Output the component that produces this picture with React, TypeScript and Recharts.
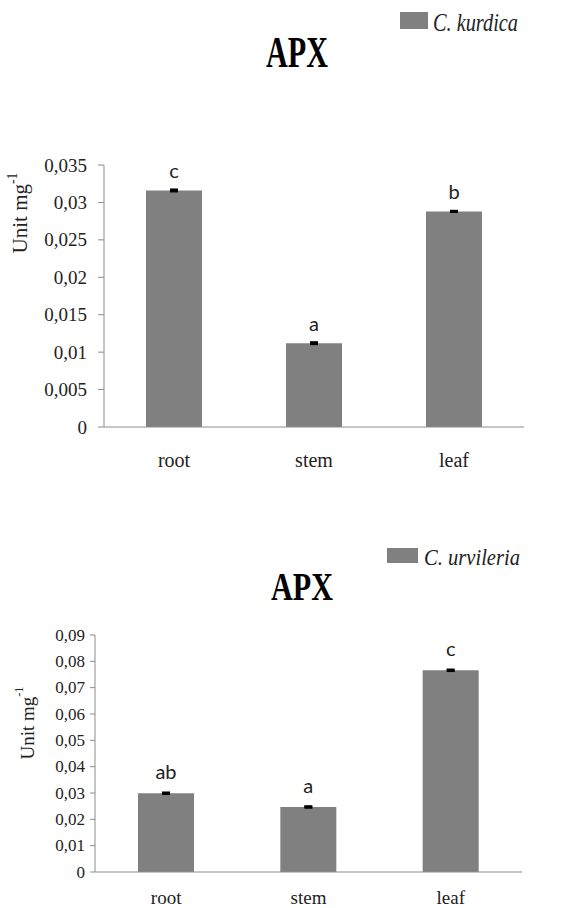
import { BarChart, Bar, XAxis, YAxis, ErrorBar, LabelList } from "recharts"

const organs = ["root", "stem", "leaf"]

const kurdicaApx = [0.0316, 0.0112, 0.0288]
const kurdicaErr = [0.0001, 0.0001, 0.00005]
const kurdicaLetters = ["c", "a", "b"]
const kurdicaTicks = [0, 0.005, 0.01, 0.015, 0.02, 0.025, 0.03, 0.035]

const urvileriaApx = [0.0299, 0.0247, 0.0766]
const urvileriaErr = [0.0002, 0.0002, 0.0002]
const urvileriaLetters = ["ab", "a", "c"]
const urvileriaTicks = [0, 0.01, 0.02, 0.03, 0.04, 0.05, 0.06, 0.07, 0.08, 0.09]

const kurdicaData = organs.map((organ, i) => ({
  organ,
  apx: kurdicaApx[i],
  err: kurdicaErr[i],
  letter: kurdicaLetters[i],
}))

const urvileriaData = organs.map((organ, i) => ({
  organ,
  apx: urvileriaApx[i],
  err: urvileriaErr[i],
  letter: urvileriaLetters[i],
}))

const BAR = "#808080"
const AXIS = "#8c8c8c"
const SERIF = "'Liberation Serif', 'Times New Roman', serif"
const SANS = "Lato, 'Liberation Sans', sans-serif"

// comma decimal like the original (0,035)
const commaFmt = (v: number) => (v === 0 ? "0" : String(parseFloat(v.toFixed(3))).replace(".", ","))

function yTick(size: number) {
  return (props: any) => {
    const { x, y, payload } = props
    return (
      <text x={x} y={y} textAnchor="end" dominantBaseline="central" fill="#222" style={{ fontFamily: SERIF, fontSize: size }}>
        {commaFmt(payload.value)}
      </text>
    )
  }
}

function xTick(size: number) {
  return (props: any) => {
    const { x, y, payload } = props
    return (
      <text x={x} y={y} textAnchor="middle" dominantBaseline="central" fill="#222" style={{ fontFamily: SERIF, fontSize: size }}>
        {payload.value}
      </text>
    )
  }
}

function letterLabel(gap: number) {
  return (props: any) => {
    const vb = props.viewBox || props
    const x = Number(vb.x) + Number(vb.width) / 2
    const y = Number(vb.y) - gap
    return (
      <text x={x} y={y} textAnchor="middle" fill="#222" style={{ fontFamily: SANS, fontSize: 20 }}>
        {props.value}
      </text>
    )
  }
}

function yLabel(dx: number, dy: number, size: number) {
  return (props: any) => {
    const vb = props.viewBox || { x: 0, y: 0 }
    const x = Number(vb.x) + dx
    const y = Number(vb.y) + dy
    return (
      <text
        x={x}
        y={y}
        transform={`rotate(-90 ${x} ${y})`}
        textAnchor="middle"
        dominantBaseline="central"
        fill="#222"
        style={{ fontFamily: SERIF, fontSize: size }}
      >
        Unit mg
        <tspan dy={-size * 0.4} style={{ fontSize: size * 0.65 }}>
          -1
        </tspan>
      </text>
    )
  }
}

export default function App() {
  return (
    <div style={{ position: "absolute", left: 0, top: 0, width: 576, height: 908, background: "#fff" }}>
      <div style={{ position: "absolute", left: 0, top: 0 }}>
        <BarChart width={576} height={480} data={kurdicaData} margin={{ top: 165, right: 52, left: 0, bottom: 0 }}>
          <XAxis
            dataKey="organ"
            height={53}
            tickSize={0}
            tickMargin={33}
            axisLine={{ stroke: AXIS }}
            tick={xTick(20)}
          />
          <YAxis
            width={104}
            domain={[0, 0.035]}
            ticks={kurdicaTicks}
            interval={0}
            tickSize={6}
            tickMargin={11}
            axisLine={{ stroke: AXIS }}
            tickLine={{ stroke: AXIS }}
            tick={yTick(19)}
            label={{ content: yLabel(20, 48, 21) }}
          />
          <Bar dataKey="apx" fill={BAR} barSize={56} isAnimationActive={false}>
            <ErrorBar dataKey="err" width={4} stroke="#000" strokeWidth={2.5} />
            <LabelList dataKey="letter" content={letterLabel(12)} />
          </Bar>
        </BarChart>
      </div>

      <div style={{ position: "absolute", left: 0, top: 480 }}>
        <BarChart width={576} height={428} data={urvileriaData} margin={{ top: 155, right: 54, left: 0, bottom: 0 }}>
          <XAxis
            dataKey="organ"
            height={36}
            tickSize={0}
            tickMargin={25}
            axisLine={{ stroke: AXIS }}
            tick={xTick(19)}
          />
          <YAxis
            width={95}
            domain={[0, 0.09]}
            ticks={urvileriaTicks}
            interval={0}
            tickSize={5}
            tickMargin={5}
            axisLine={{ stroke: AXIS }}
            tickLine={{ stroke: AXIS }}
            tick={yTick(17)}
            label={{ content: yLabel(27, 88, 19) }}
          />
          <Bar dataKey="apx" fill={BAR} barSize={56} isAnimationActive={false}>
            <ErrorBar dataKey="err" width={4} stroke="#000" strokeWidth={2.5} />
            <LabelList dataKey="letter" content={letterLabel(14)} />
          </Bar>
        </BarChart>
      </div>

      {/* titles and legends */}
      <svg width={576} height={908} style={{ position: "absolute", left: 0, top: 0, pointerEvents: "none" }}>
        <text x={297} y={67} textAnchor="middle" fontWeight="bold" textLength={62} lengthAdjust="spacingAndGlyphs" style={{ fontFamily: SERIF, fontSize: 44 }}>
          APX
        </text>
        <rect x={400} y={12} width={28} height={17} fill={BAR} />
        <text x={433} y={31} fontStyle="italic" textLength={85} lengthAdjust="spacingAndGlyphs" fill="#222" style={{ fontFamily: SERIF, fontSize: 26 }}>
          C. kurdica
        </text>

        <text x={302} y={600} textAnchor="middle" fontWeight="bold" textLength={62} lengthAdjust="spacingAndGlyphs" style={{ fontFamily: SERIF, fontSize: 41 }}>
          APX
        </text>
        <rect x={387} y={548} width={31} height={15} fill={BAR} />
        <text x={424} y={565} fontStyle="italic" textLength={96} lengthAdjust="spacingAndGlyphs" fill="#222" style={{ fontFamily: SERIF, fontSize: 23 }}>
          C. urvileria
        </text>
      </svg>
    </div>
  )
}
